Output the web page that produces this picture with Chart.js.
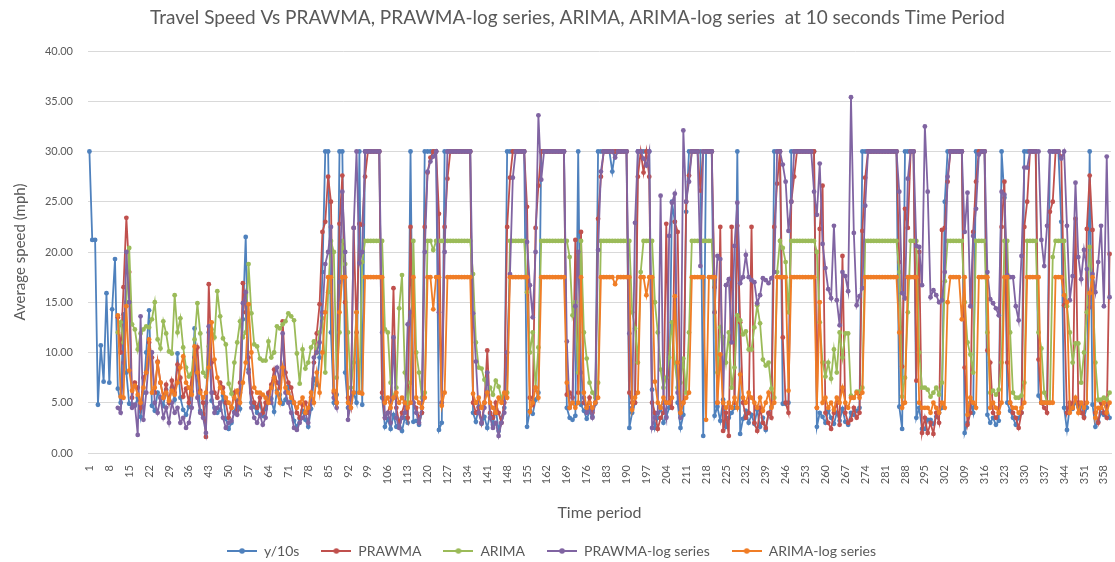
<!DOCTYPE html>
<html>
<head>
<meta charset="utf-8">
<script src="https://cdn.jsdelivr.net/npm/chart.js@4.4.1/dist/chart.umd.min.js"></script>
<style>
  html, body { margin: 0; padding: 0; background: #fff; overflow: hidden; }
  #wrap { position: relative; width: 1115px; height: 568px; }
</style>
</head>
<body>
<div id="wrap"><canvas id="speedChart"></canvas></div>
<script>
// Time periods 1..360, only every 7th one gets a label
const timePeriods = Array.from({ length: 360 }, (_, i) => String(i + 1));
const labelStep = 7;

const seriesNames = ['y/10s', 'PRAWMA', 'ARIMA', 'PRAWMA-log series', 'ARIMA-log series'];
const seriesColors = ['#4f81bd', '#c0504d', '#9bbb59', '#8064a2', '#f07d26'];

const ySpeed = [
  30, 21.2, 21.2, 4.8, 10.7, 7.1, 15.9, 7.0, 14.3, 19.3,
  6.4, 5.0, 13.8, 8.0, 4.9, 4.8, 4.7, 5.5, 3.6, 6.0,
  10.0, 14.2, 4.7, 4.2, 6.0, 5.5, 4.7, 6.3, 5.0, 6.5,
  5.3, 9.9, 5.5, 4.3, 3.8, 4.6, 6.1, 12.4, 7.8, 4.2,
  3.9, 5.0, 12.0, 5.2, 4.5, 4.0, 4.3, 5.7, 3.4, 2.4,
  3.0, 4.1, 5.2, 4.4, 13.3, 21.5, 8.3, 5.0, 4.6, 4.0,
  4.9, 3.7, 4.4, 5.9, 5.4, 4.1, 6.2, 5.8, 4.9, 5.3,
  6.6, 5.1, 3.2, 2.6, 3.4, 4.2, 3.3, 2.6, 4.4, 7.4,
  6.8, 9.5, 18.0, 30, 30, 12.0, 5.0, 5.8, 30, 30,
  8.0, 4.5, 5.2, 6.0, 5.0, 30, 4.8, 30, 30, 30,
  30, 30, 30, 5.5, 2.6, 3.4, 2.4, 3.8, 2.6, 3.1,
  2.2, 3.5, 3.0, 30, 3.1, 3.2, 2.8, 4.0, 30, 30,
  30, 30, 30, 2.3, 3.0, 30, 30, 30, 30, 30,
  30, 30, 30, 30, 30, 4.0, 3.1, 4.6, 2.9, 3.6,
  2.5, 3.9, 2.8, 4.4, 2.2, 3.5, 4.5, 30, 30, 30,
  30, 30, 30, 30, 2.6, 4.2, 3.9, 5.3, 6.0, 30,
  30, 30, 30, 30, 30, 30, 30, 30, 4.5, 3.5,
  3.3, 3.7, 30, 4.8, 4.2, 3.4, 4.1, 3.6, 4.9, 30,
  30, 30, 30, 30, 28.0, 30, 30, 30, 30, 30,
  2.5, 4.0, 5.0, 30, 30, 30, 30, 30, 6.3, 2.5,
  3.5, 4.5, 3.0, 3.6, 4.5, 25.0, 23.0, 5.0, 2.5, 3.8,
  24.0, 30, 30, 30, 30, 30, 1.7, 30, 30, 30,
  3.7, 4.6, 3.2, 5.3, 2.6, 3.5, 4.0, 4.5, 30, 1.9,
  3.4, 4.2, 3.0, 3.8, 2.9, 4.3, 2.6, 3.5, 2.3, 3.9,
  4.6, 30, 30, 30, 4.9, 4.9, 5.0, 30, 30, 30,
  30, 30, 30, 30, 30, 30, 2.6, 4.0, 3.6, 3.0,
  4.2, 3.5, 2.9, 4.0, 3.2, 4.4, 3.1, 2.8, 4.0, 3.8,
  4.2, 4.5, 30, 30, 30, 30, 30, 30, 30, 30,
  30, 30, 30, 30, 30, 4.6, 2.4, 30, 30, 30,
  30, 3.5, 4.5, 2.4, 2.4, 3.3, 3.3, 2.9, 3.6, 4.0,
  4.5, 25.0, 30, 30, 30, 30, 30, 30, 2.0, 3.0,
  5.0, 4.0, 30, 30, 30, 30, 3.8, 3.0, 3.5, 2.8,
  3.2, 30, 25.4, 5.0, 4.2, 3.5, 2.8, 3.5, 4.0, 30,
  30, 30, 30, 30, 5.7, 5.0, 5.0, 5.0, 30, 30,
  30, 30, 23.0, 4.5, 2.3, 4.6, 4.4, 5.0, 4.6, 4.8,
  3.6, 4.5, 30, 4.8, 2.6, 3.1, 4.0, 3.8, 4.6, 3.5
];

const prawma = [
  null, null, null, null, null, null, null, null, null, null,
  13.5, 10.0, 16.5, 23.4, 18.0, 5.5, 7.0, 6.5, 4.5, 7.5,
  8.0, 11.0, 9.5, 6.0, 9.1, 7.0, 5.5, 6.8, 5.0, 7.2,
  6.0, 8.8, 7.5, 5.6, 6.4, 5.0, 7.8, 9.5, 10.5, 6.2,
  5.0, 1.6, 16.8, 9.0, 6.0, 5.5, 7.0, 6.5, 5.0, 3.5,
  4.5, 6.0, 4.2, 7.0, 16.9, 14.0, 9.5, 6.0, 5.0, 4.5,
  5.5, 4.0, 5.0, 6.0, 6.8, 8.3, 7.0, 6.5, 13.1, 8.0,
  7.0, 6.5, 5.0, 4.0, 3.5, 4.8, 5.0, 4.0, 5.5, 9.0,
  11.9, 14.8, 22.0, 23.0, 27.5, 25.0, 6.0, 5.0, 22.8, 27.6,
  15.0, 5.5, 4.5, 22.4, 12.0, 22.8, 22.7, 27.5, 30, 30,
  30, 30, 30, 6.0, 3.5, 4.0, 5.0, 16.4, 4.5, 3.0,
  4.0, 5.0, 3.5, 22.5, 5.0, 4.5, 3.5, 4.0, 22.5, 27.9,
  29.4, 30, 30, 23.8, 5.0, 22.5, 27.3, 30, 30, 30,
  30, 30, 30, 30, 30, 5.0, 4.0, 4.5, 3.0, 5.0,
  10.2, 4.0, 3.5, 5.0, 4.0, 3.0, 5.0, 22.5, 27.4, 30,
  30, 30, 30, 30, 24.5, 5.5, 4.8, 22.4, 26.6, 30,
  30, 30, 30, 30, 30, 30, 30, 30, 5.8, 6.0,
  5.5, 21.2, 6.0, 22.0, 5.0, 4.5, 5.5, 4.0, 5.0, 23.3,
  27.5, 30, 30, 30, 30, 30, 30, 30, 30, 30,
  6.0, 5.0, 5.0, 27.5, 30, 27.9, 30, 27.5, 5.0, 4.0,
  2.4, 3.5, 4.0, 22.8, 5.0, 4.5, 23.0, 22.0, 4.0, 5.0,
  25.0, 27.6, 30, 30, 30, 26.1, 30, 30, 30, 30,
  16.5, 5.0, 22.5, 2.2, 4.0, 1.7, 22.5, 5.0, 22.6, 13.0,
  5.0, 3.5, 4.0, 22.5, 3.0, 2.2, 4.5, 3.0, 2.5, 4.0,
  3.5, 22.5, 26.8, 30, 11.5, 5.0, 4.0, 25.0, 27.5, 30,
  30, 30, 30, 30, 30, 30, 4.5, 22.3, 26.6, 4.0,
  3.0, 2.4, 4.0, 5.0, 2.8, 19.6, 4.0, 3.0, 3.3, 4.5,
  3.5, 4.0, 22.1, 27.4, 30, 30, 30, 30, 30, 30,
  30, 30, 30, 30, 30, 19.0, 8.6, 24.3, 22.4, 30,
  30, 7.2, 20.0, 2.0, 3.5, 2.0, 3.0, 1.9, 4.0, 3.0,
  22.2, 22.4, 27.0, 30, 30, 30, 30, 30, 8.5, 2.8,
  4.0, 22.0, 27.0, 30, 30, 30, 10.2, 9.0, 4.0, 3.5,
  4.0, 22.5, 27.0, 9.0, 5.0, 4.0, 3.5, 2.5, 4.0, 22.5,
  25.0, 30, 30, 30, 9.3, 5.0, 4.5, 4.0, 24.0, 25.0,
  30, 30, 29.5, 14.7, 4.0, 5.0, 4.5, 23.3, 5.0, 4.0,
  3.5, 22.3, 27.6, 22.2, 4.0, 3.0, 5.0, 4.0, 3.5, 19.8
];

const arima = [
  null, null, null, null, null, null, null, null, null, null,
  12.0, 13.0, 11.0, 15.0, 20.4, 12.8, 12.3, 10.3, 11.9, 12.3,
  12.6, 12.5, 13.3, 15.0, 11.3, 10.4, 13.1, 11.9, 10.1, 9.9,
  15.7, 12.0, 13.4, 10.5, 8.5, 7.6, 7.9, 11.3, 14.9, 11.9,
  8.0, 7.6, 10.6, 12.3, 11.5, 16.1, 13.6, 11.4, 10.8, 6.9,
  5.9, 9.0, 11.0, 13.1, 11.5, 12.0, 18.8, 13.9, 10.8, 10.6,
  9.4, 9.2, 9.2, 11.1, 9.5, 10.0, 12.6, 12.4, 12.8, 13.1,
  13.9, 13.6, 13.2, 9.9, 6.9, 10.3, 8.4, 9.0, 10.5, 11.1,
  10.0, 12.0, 13.4, 8.0, 16.0, 21.1, 20.0, 7.5, 12.0, 21.1,
  18.8, 12.0, 6.5, 9.0, 14.0, 6.0, 19.0, 21.1, 21.1, 21.1,
  21.1, 21.1, 21.1, 21.1, 12.3, 12.0, 7.0, 5.5, 6.5, 14.4,
  17.7, 8.0, 5.0, 7.0, 21.1, 10.0, 8.0, 5.5, 6.0, 21.1,
  21.1, 20.2, 21.1, 21.1, 21.1, 21.1, 21.1, 21.1, 21.1, 21.1,
  21.1, 21.1, 21.1, 21.1, 21.1, 17.8, 11.0, 8.5, 8.4, 7.3,
  6.0, 6.5, 5.8, 7.2, 6.6, 5.5, 5.8, 6.0, 21.1, 21.1,
  21.1, 21.1, 21.1, 21.1, 16.0, 10.0, 12.0, 6.5, 10.5, 21.1,
  21.1, 21.1, 21.1, 21.1, 21.1, 21.1, 21.1, 21.1, 21.1, 19.5,
  13.7, 15.0, 8.0, 21.1, 12.0, 9.4, 7.0, 6.0, 5.5, 7.0,
  21.1, 21.1, 21.1, 21.1, 21.1, 21.1, 21.1, 21.1, 21.1, 21.1,
  21.1, 14.0, 12.4, 9.0, 18.0, 21.1, 21.1, 21.1, 21.1, 15.0,
  12.0, 8.3, 6.5, 7.5, 9.5, 13.0, 9.0, 6.5, 7.0, 9.4,
  6.0, 12.0, 21.1, 21.1, 21.1, 21.1, 21.1, 21.1, 21.1, 21.1,
  14.0, 8.0, 12.5, 11.5, 9.0, 12.0, 6.5, 8.5, 13.7, 13.2,
  11.8, 12.1, 10.3, 10.3, 12.5, 14.7, 12.9, 9.3, 8.7, 9.0,
  6.4, 5.5, 18.0, 21.1, 20.4, 19.0, 14.0, 21.1, 21.1, 21.1,
  21.1, 21.1, 21.1, 21.1, 21.1, 21.1, 20.0, 13.0, 9.0, 7.6,
  9.0, 7.4, 10.3, 8.0, 12.0, 9.5, 11.9, 11.9, 5.7, 5.5,
  6.1, 6.1, 6.5, 21.1, 21.1, 21.1, 21.1, 21.1, 21.1, 21.1,
  21.1, 21.1, 21.1, 21.1, 21.1, 18.0, 5.6, 7.5, 14.0, 21.1,
  21.1, 21.1, 10.0, 6.5, 6.5, 6.3, 5.6, 6.0, 6.5, 5.8,
  7.0, 17.1, 21.1, 21.1, 21.1, 21.1, 21.1, 21.1, 15.0, 11.0,
  9.8, 8.0, 21.1, 21.1, 21.1, 21.1, 12.0, 6.0, 6.2, 5.8,
  6.3, 9.0, 21.1, 21.1, 12.0, 6.0, 5.5, 5.5, 5.7, 7.0,
  21.1, 21.1, 21.1, 21.1, 12.0, 10.4, 6.0, 5.0, 5.0, 19.5,
  21.1, 21.1, 21.1, 21.1, 14.6, 12.0, 9.0, 10.9, 10.9, 7.0,
  10.0, 14.0, 20.5, 17.0, 9.0, 5.3, 5.3, 5.5, 5.3, 6.0
];

const prawmaLog = [
  null, null, null, null, null, null, null, null, null, null,
  4.5, 4.0, 9.0, 20.0, 15.0, 4.5, 4.8, 1.8, 13.6, 3.3,
  6.0, 9.5, 10.0, 5.0, 4.0, 5.5, 3.5, 4.5, 3.0, 5.0,
  4.0, 4.5, 3.0, 3.5, 2.5, 3.0, 4.5, 9.5, 5.5, 4.0,
  3.5, 2.0, 12.6, 6.0, 4.0, 4.5, 5.0, 3.5, 2.5, 3.0,
  3.2, 4.0, 3.8, 6.0, 14.9, 16.0, 8.0, 4.5, 3.5, 3.0,
  3.8, 2.8, 3.5, 5.5, 5.0, 7.5, 8.5, 7.0, 11.9, 6.0,
  5.0, 4.0, 2.5, 2.3, 3.0, 3.5, 4.0, 3.0, 5.0, 9.5,
  10.0, 11.0, 14.0, 18.8, 20.0, 22.5, 5.5, 4.5, 17.0, 26.0,
  20.0, 3.3, 5.0, 22.4, 30, 18.9, 20.0, 30, 30, 30,
  30, 30, 30, 12.0, 3.5, 4.0, 3.0, 11.5, 3.5, 2.5,
  3.5, 4.0, 12.8, 14.0, 5.0, 4.0, 3.0, 4.5, 20.0, 28.0,
  29.0, 29.5, 30, 14.0, 5.0, 20.0, 30, 30, 30, 30,
  30, 30, 30, 30, 30, 13.9, 9.1, 4.0, 3.0, 4.5,
  8.0, 3.5, 2.5, 3.0, 1.7, 3.0, 4.0, 10.0, 17.8, 27.4,
  30, 30, 30, 30, 21.0, 16.7, 13.5, 20.0, 33.6, 27.2,
  30, 30, 30, 30, 30, 30, 30, 30, 11.1, 4.5,
  5.0, 14.6, 20.0, 8.0, 5.5, 4.0, 4.5, 3.5, 5.0, 20.2,
  28.0, 30, 30, 30, 30, 29.4, 30, 30, 30, 30,
  11.9, 4.5, 22.9, 30, 30, 29.3, 28.6, 30, 2.5, 3.5,
  4.0, 25.6, 5.0, 3.5, 21.6, 24.9, 25.8, 6.0, 3.5, 32.1,
  25.0, 27.0, 30, 30, 30, 18.6, 30, 30, 30, 30,
  14.0, 19.6, 19.3, 5.0, 16.7, 17.3, 11.0, 20.6, 24.9, 16.9,
  17.5, 19.7, 17.5, 17.2, 17.0, 14.9, 15.7, 17.4, 17.2, 16.9,
  17.4, 18.0, 30, 30, 28.7, 27.0, 22.1, 25.0, 30, 30,
  30, 30, 30, 30, 30, 26.0, 23.7, 28.8, 20.8, 18.4,
  16.3, 15.4, 22.6, 15.2, 12.7, 18.0, 17.6, 16.1, 35.4, 21.9,
  14.7, 15.6, 16.4, 24.6, 30, 30, 30, 30, 30, 30,
  30, 30, 30, 30, 30, 26.0, 15.9, 15.4, 27.3, 30,
  30, 20.6, 20.5, 16.7, 32.5, 26.0, 15.5, 16.2, 15.7, 15.0,
  15.2, 18.0, 27.5, 30, 30, 30, 30, 30, 22.0, 25.9,
  14.6, 21.6, 24.3, 29.7, 30, 30, 18.0, 15.3, 14.9, 14.4,
  13.7, 26.0, 25.7, 17.7, 17.5, 17.5, 14.6, 13.2, 19.6, 28.4,
  28.4, 30, 30, 30, 30, 21.2, 18.6, 22.6, 30, 30,
  30, 30, 29.3, 30, 22.6, 15.2, 17.6, 26.9, 19.5, 17.3,
  20.2, 18.3, 14.5, 17.8, 16.0, 19.0, 22.6, 14.6, 29.5, 15.5
];

const arimaLog = [
  null, null, null, null, null, null, null, null, null, null,
  13.7, 5.6, 5.5, 14.6, 8.2, 6.2, 6.7, 5.8, 5.0, 6.5,
  8.0, 11.3, 6.0, 6.5, 9.0, 7.0, 5.5, 6.0, 5.2, 6.2,
  5.8, 7.0, 8.5, 9.6, 7.0, 6.5, 5.8, 10.6, 8.0, 6.0,
  5.5, 6.0, 8.5, 13.0, 9.3, 7.5, 6.5, 6.0, 5.5, 5.0,
  4.5, 5.5, 6.2, 5.0, 7.0, 9.0, 14.8, 10.0, 6.5, 6.0,
  6.0, 5.8, 5.5, 5.0, 6.5, 7.5, 6.0, 5.0, 8.5, 6.5,
  6.0, 5.5, 5.0, 4.5, 5.0, 5.5, 4.0, 4.5, 6.0, 5.0,
  8.0, 6.0, 10.0, 14.0, 17.5, 17.5, 6.2, 5.0, 14.0, 17.5,
  17.5, 5.0, 4.5, 6.0, 14.0, 6.0, 5.9, 17.5, 17.5, 17.5,
  17.5, 17.5, 17.5, 17.5, 5.0, 5.5, 4.5, 5.5, 6.0, 5.0,
  5.5, 5.0, 4.5, 5.0, 17.5, 5.5, 5.0, 4.5, 5.5, 17.5,
  17.5, 14.3, 17.5, 17.5, 4.7, 6.0, 17.5, 17.5, 17.5, 17.5,
  17.5, 17.5, 17.5, 17.5, 17.5, 5.9, 5.0, 5.5, 4.5, 5.0,
  6.0, 5.0, 4.5, 4.0, 5.5, 5.0, 6.0, 5.5, 17.5, 17.5,
  17.5, 17.5, 17.5, 17.5, 17.5, 4.1, 5.0, 6.5, 5.5, 17.5,
  17.5, 17.5, 17.5, 17.5, 17.5, 17.5, 17.5, 17.5, 7.0, 4.5,
  5.0, 4.5, 5.0, 17.5, 6.0, 4.5, 5.0, 4.5, 5.0, 5.5,
  17.5, 17.5, 17.5, 17.5, 17.5, 16.8, 17.5, 17.5, 17.5, 17.5,
  17.5, 4.3, 5.5, 6.0, 17.5, 17.5, 15.7, 17.5, 17.5, 7.1,
  5.0, 4.5, 5.5, 5.0, 5.0, 5.5, 15.6, 9.0, 4.0, 5.0,
  5.5, 6.0, 17.5, 17.5, 17.5, 17.5, 17.5, 3.3, 17.5, 17.5,
  17.5, 5.0, 9.8, 5.0, 4.5, 5.0, 4.5, 5.5, 4.5, 7.8,
  5.5, 5.0, 6.0, 5.5, 5.0, 4.5, 5.5, 4.2, 5.0, 6.0,
  4.5, 5.0, 17.5, 17.5, 17.5, 17.5, 6.2, 17.5, 17.5, 17.5,
  17.5, 17.5, 17.5, 17.5, 17.5, 17.5, 4.5, 15.0, 5.0, 5.5,
  4.5, 5.0, 4.3, 5.5, 5.0, 6.5, 5.0, 4.5, 5.5, 5.5,
  6.0, 5.5, 6.0, 17.5, 17.5, 17.5, 17.5, 17.5, 17.5, 17.5,
  17.5, 17.5, 17.5, 17.5, 17.5, 12.0, 4.5, 5.0, 17.5, 17.5,
  17.5, 17.5, 5.0, 4.5, 4.5, 4.5, 4.0, 5.0, 4.5, 4.0,
  5.0, 4.5, 15.0, 17.5, 17.5, 17.5, 17.5, 13.3, 17.5, 3.8,
  5.5, 5.0, 4.5, 17.5, 17.5, 17.5, 17.5, 4.5, 5.0, 4.5,
  4.0, 5.0, 17.5, 17.5, 5.0, 4.5, 4.5, 4.0, 4.5, 5.0,
  17.5, 17.5, 17.5, 17.5, 17.5, 5.0, 5.0, 5.0, 5.0, 5.0,
  17.5, 17.5, 17.5, 15.7, 15.0, 4.0, 4.5, 5.5, 4.0, 5.0,
  4.5, 5.0, 15.9, 17.5, 3.5, 4.5, 4.5, 5.0, 4.0, 5.0
];

const seriesValues = [ySpeed, prawma, arima, prawmaLog, arimaLog];

const textColor = '#595959';
const gridColor = '#d9d9d9';
Chart.defaults.font.family = 'Lato';
Chart.defaults.color = textColor;

// little "line with dot" swatch used in the legend, like the Excel one
function legendMarker(color) {
    const c = document.createElement('canvas');
    c.width = 30;
    c.height = 8;
    const g = c.getContext('2d');
    g.strokeStyle = color;
    g.lineWidth = 2;
    g.beginPath();
    g.moveTo(0, 4);
    g.lineTo(30, 4);
    g.stroke();
    g.fillStyle = color;
    g.beginPath();
    g.arc(15, 4, 2.8, 0, Math.PI * 2);
    g.fill();
    return c;
}
const markers = seriesColors.map(legendMarker);

const datasets = seriesNames.map((name, i) => ({
    label: name,
    data: seriesValues[i],
    borderColor: seriesColors[i],
    backgroundColor: seriesColors[i],
    pointBackgroundColor: seriesColors[i],
    pointBorderWidth: 0,
    pointRadius: 2.4,
    borderWidth: 1.8,
    tension: 0,
    order: seriesNames.length - i   // later series painted on top
}));

// nudge title/legend to where Excel put them
const shiftBlocks = {
    id: 'shiftBlocks',
    afterLayout(chart) {
        if (chart.titleBlock) chart.titleBlock.left = 40;
        if (chart.legend) chart.legend.right = 1103;
    }
};

const ctx = document.getElementById('speedChart').getContext('2d');
new Chart(ctx, {
    type: 'line',
    data: {
        labels: timePeriods,
        datasets: datasets
    },
    plugins: [shiftBlocks],
    options: {
        responsive: true,
        maintainAspectRatio: false,
        animation: false,
        devicePixelRatio: 1,
        layout: { padding: 0 },
        plugins: {
            title: {
                display: true,
                text: 'Travel Speed Vs PRAWMA, PRAWMA-log series, ARIMA, ARIMA-log series  at 10 seconds Time Period',
                color: textColor,
                font: { size: 19, weight: 'normal' },
                padding: { top: 6, bottom: 22.2 }
            },
            legend: {
                position: 'bottom',
                labels: {
                    usePointStyle: true,
                    pointStyleWidth: 30,
                    padding: 22,
                    color: textColor,
                    font: { size: 14 },
                    generateLabels: chart => chart.data.datasets.map((ds, i) => ({
                        text: ds.label,
                        fillStyle: ds.borderColor,
                        strokeStyle: ds.borderColor,
                        lineWidth: 0,
                        pointStyle: markers[i],
                        fontColor: textColor,
                        hidden: !chart.isDatasetVisible(i),
                        datasetIndex: i
                    }))
                }
            },
            tooltip: { enabled: false }
        },
        scales: {
            x: {
                type: 'category',
                offset: true,
                grid: { display: false },
                border: { display: true, color: gridColor },
                ticks: {
                    autoSkip: false,
                    maxRotation: 90,
                    minRotation: 90,
                    padding: 4,
                    color: textColor,
                    font: { size: 11 },
                    callback: (v, i) => (i % labelStep === 0 ? timePeriods[i] : '')
                },
                title: {
                    display: true,
                    text: 'Time period',
                    color: textColor,
                    font: { size: 16 },
                    padding: { top: 0, bottom: 0 }
                },
                afterFit: scale => {
                    scale.height = 69;
                    scale.paddingLeft = 0;
                    scale.paddingRight = 0;
                }
            },
            y: {
                min: 0,
                max: 40,
                grid: { color: gridColor, drawTicks: false },
                border: { display: false },
                ticks: {
                    stepSize: 5,
                    padding: 15,
                    color: textColor,
                    font: { size: 11 },
                    callback: v => v.toFixed(2)
                },
                title: {
                    display: true,
                    text: 'Average speed (mph)',
                    color: textColor,
                    font: { size: 15 },
                    padding: { top: 11, bottom: 0 }
                },
                afterFit: scale => {
                    scale.width = 88;
                }
            }
        }
    }
});
</script>
</body>
</html>
